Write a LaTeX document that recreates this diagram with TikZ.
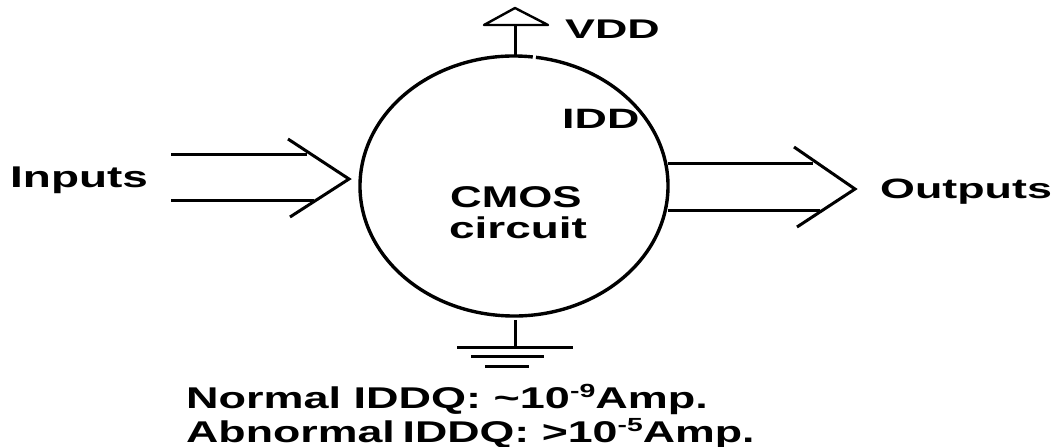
\documentclass[tikz,border=0pt]{standalone}
\usepackage{fontspec}
\setmainfont{Liberation Sans}
\usetikzlibrary{shapes.geometric}
\newcommand{\wide}[2][1.66]{\scalebox{#1}[1]{#2}}
\newcommand{\sups}[1]{\raisebox{11pt}{\fontsize{19}{19}\selectfont #1}}
\tikzset{
  lbl/.style={inner sep=0pt,font=\fontsize{27}{27}\selectfont\bfseries,anchor=base west},
  big/.style={inner sep=0pt,font=\fontsize{30}{30}\selectfont\bfseries,anchor=base west},
  mid/.style={inner sep=0pt,font=\fontsize{28}{28}\selectfont\bfseries,anchor=base west},
  wire/.style={line width=3pt,draw=black},
  thin wire/.style={line width=2.4pt,draw=black,line cap=round},
  body/.style={ellipse,minimum width=308pt,minimum height=260pt,inner sep=0pt},
}
\begin{document}
\begin{tikzpicture}[x=1pt,y=-1pt]
\useasboundingbox (0,0) rectangle (1055,447);
% circuit body
\node[body] (cmos) at (514,186) {};
\draw[line width=3.4pt] (514,186) ++(83:154pt and 130pt) arc[start angle=83,end angle=441.8,x radius=154pt,y radius=130pt];
% supply
\coordinate (vddbase) at (515,25);
\coordinate (vddapex) at (515,8);
\coordinate (vddl) at (484,25);
\coordinate (vddr) at (548,25);
\coordinate (vddfoot) at (515,56);
\draw[wire] (vddbase) -- (vddfoot);
\draw[thin wire,line join=round] (vddl) -- (vddapex) -- (vddr) -- cycle;
% ground
\coordinate (gndtop) at (515,320);
\coordinate (gnd) at (515,347);
\coordinate (g1l) at (457,347); \coordinate (g1r) at (573,347);
\coordinate (g2l) at (471,356); \coordinate (g2r) at (544,356);
\coordinate (g3l) at (485,366); \coordinate (g3r) at (529,366);
\draw[wire] (gndtop) -- (gnd);
\draw[wire] (g1l) -- (g1r);
\draw[wire] (g2l) -- (g2r);
\draw[wire] (g3l) -- (g3r);
% inputs
\coordinate (ia) at (171,154.5); \coordinate (iae) at (307,154.5);
\coordinate (ib) at (171,200.5); \coordinate (ibe) at (314,200.5);
\coordinate (iht) at (288,139); \coordinate (ihm) at (349,179); \coordinate (ihb) at (290,217);
\draw[wire] (ia) -- (iae);
\draw[wire] (ib) -- (ibe);
\draw[wire] (iht) -- (ihm) -- (ihb);
% outputs
\coordinate (oa) at (668,163); \coordinate (oae) at (813,163);
\coordinate (ob) at (668,210); \coordinate (obe) at (820,210);
\coordinate (oht) at (794,147); \coordinate (ohm) at (855,189); \coordinate (ohb) at (797,227);
\draw[wire] (oa) -- (oae);
\draw[wire] (ob) -- (obe);
\draw[wire] (oht) -- (ohm) -- (ohb);
% labels
\node[lbl] (vdd) at (565,38) {\wide{VDD}};
\node[mid] (idd) at (562,128) {\wide[1.6]{IDD}};
\node[big] (inputs) at (10,187) {\wide[1.53]{Inputs}};
\node[mid] (outputs) at (880,198) {\wide[1.6]{Outputs}};
\node[big] (cm) at (450,207) {\wide[1.46]{CMOS}};
\node[big] (ci) at (449,238) {\wide[1.53]{circuit}};
\node[big] (n1) at (186,408) {\wide[1.5]{Normal IDDQ: \textasciitilde 10\sups{-9}Amp.}};
\node[big] (n2) at (186,442) {\wide[1.49]{Abnormal\hspace{-3pt} IDDQ: >10\sups{-5}Amp.}};
\end{tikzpicture}
\end{document}
